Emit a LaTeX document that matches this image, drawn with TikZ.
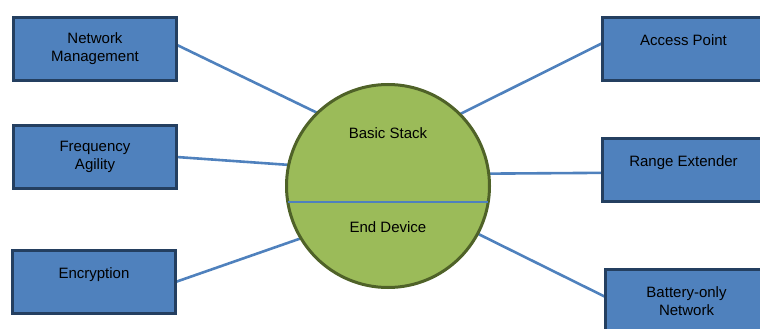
\documentclass[tikz,border=0pt]{standalone}
\usepackage{fontspec}
\setmainfont{Liberation Sans}
\usepackage{xcolor}
\usepackage{tikz}
\usetikzlibrary{shapes.geometric}
\usetikzlibrary{backgrounds}
\definecolor{boxblue}{HTML}{4F81BD}
\definecolor{boxedge}{HTML}{243F60}
\definecolor{stackgreen}{HTML}{9BBB59}
\definecolor{stackedge}{HTML}{4F6228}
\definecolor{linkblue}{HTML}{4F81BD}

\begin{document}
\begin{tikzpicture}[x=1pt,y=-1pt,
  block/.style={draw=boxedge, line width=3pt, fill=boxblue, minimum width=163pt, minimum height=63pt, inner sep=0pt, outer sep=0pt, align=center, font=\fontsize{15}{18}\selectfont},
  label/.style={font=\fontsize{15}{18}\selectfont, inner sep=0pt},
  link/.style={draw=linkblue, line width=2.6pt}]
\useasboundingbox (0,0) rectangle (760,329);
%%%%%boxes on the left
\node[block] (netmgmt) at (95,49) {Network\\Management};
\node[block] (freq) at (95,157) {Frequency\\Agility};
\node[block] (crypt) at (94,282) {Encryption\\\mbox{}};
%%%%%boxes on the right
\node[block] (ap) at (683.5,49) {Access Point\\\mbox{}};
\node[block] (range) at (683.5,170) {Range Extender\\\mbox{}};
\node[block] (battery) at (686.5,301) {Battery-only\\Network};
%%%%%the stack in the middle
\node[circle, draw=stackedge, line width=3pt, fill=stackgreen, minimum size=203pt, inner sep=0pt, outer sep=0pt] (stack) at (388,186) {};
\draw[linkblue, line width=2pt] (stack.189) -- (stack.351);
\node[label] (basic) at (388,133) {Basic Stack};
\node[label] (enddev) at (388,227) {End Device};
%%%%%links
\begin{scope}[on background layer]
\draw[link] (netmgmt.3) -- (stack.134);
\draw[link] (freq.east) -- (stack.168);
\draw[link] (crypt.east) -- (stack.211);
\draw[link] (ap.176) -- (stack.45);
\draw[link] (range.182) -- (stack.7);
\draw[link] (battery.177) -- (stack.332);
\end{scope}
\end{tikzpicture}
\end{document}
